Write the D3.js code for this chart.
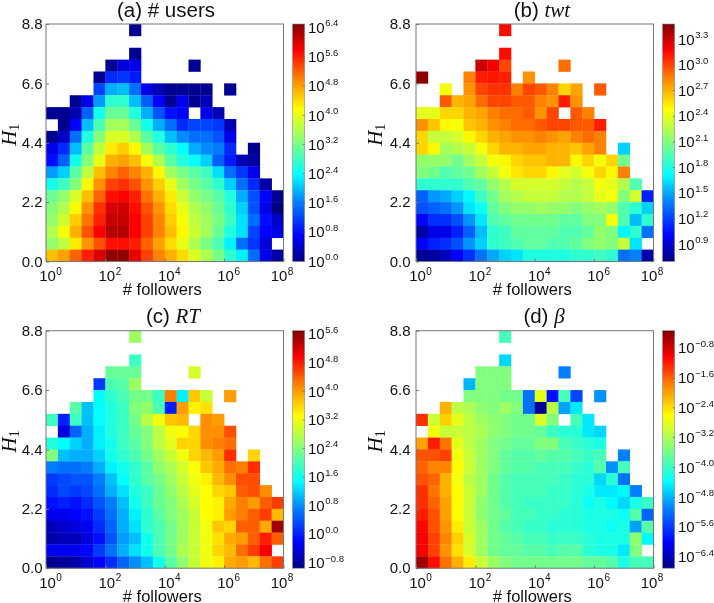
<!DOCTYPE html>
<html><head><meta charset="utf-8">
<script src="https://cdnjs.cloudflare.com/ajax/libs/d3/7.8.5/d3.min.js"></script>
<style>
html,body{margin:0;padding:0;background:#fff}
svg{display:block;filter:blur(.35px)}
text{font-family:"Liberation Sans",Arial,sans-serif;fill:#111}
</style></head><body>
<svg id="chart" width="714" height="603"></svg>
<script>
const _ = null;
// log10 of each cell; rows run from the top of the plot (H1 = 8.8) to the bottom, columns from 10^0 to 10^8
const usersLog = [
[_,_,_,_,_,_,_,.1],
[],
[_,_,_,_,_,_,_,.1],
[_,_,_,_,_,.1,.5,.6,_,_,_,_,.1],
[_,_,_,_,.1,1.0,1.1,.9],
[_,_,_,_,1.2,1.9,2.0,1.5,.6,.3,.1,.1,.1,.1,_,.1],
[_,_,.1,.6,1.8,2.7,2.7,2.0,1.4,.7,.1,.6,.1,.3],
[.1,.1,.3,1.4,2.5,3.1,3.1,2.6,1.9,1.3,.8,.7,_,.6,.3],
[_,.1,.7,2.0,2.9,3.5,3.5,3.1,2.5,1.9,1.5,1.0,1.2,1.2,1.1,.3],
[.1,.4,1.5,2.6,3.3,3.9,3.9,3.6,3.0,2.6,2.0,1.7,1.5,1.5,1.3,.6],
[.6,1.0,2.0,3.0,3.7,4.3,4.5,4.2,3.5,3.0,2.7,2.4,1.9,1.7,1.6,1.0,_,.1],
[.8,1.4,2.5,3.3,4.0,4.7,4.8,4.6,4.1,3.6,3.0,2.6,2.4,2.1,1.4,.9,.3,.2],
[1.8,2.1,3.0,3.7,4.6,5.0,5.2,5.0,4.7,4.2,3.5,3.2,3.0,2.8,2.2,1.5,1.1,.6],
[2.5,2.8,3.3,4.2,4.9,5.4,5.5,5.3,4.9,4.5,4.0,3.5,3.2,3.0,2.7,2.1,1.5,1.0,.2],
[3.1,3.4,3.9,4.6,5.2,5.7,5.8,5.6,5.1,4.7,4.3,3.8,3.4,3.2,3.0,2.6,1.9,1.3,.7,.1],
[3.3,3.6,4.2,4.9,5.5,6.0,6.05,5.7,5.3,4.9,4.4,4.0,3.6,3.4,3.1,2.7,2.1,1.3,.6,.0],
[3.4,3.8,4.5,5.1,5.6,6.1,6.1,5.8,5.4,5.0,4.5,4.1,3.7,3.5,3.2,2.8,2.2,1.5,.8,.4],
[3.6,4.1,4.7,5.3,5.8,6.2,6.2,5.8,5.4,5.0,4.6,4.2,3.8,3.5,3.1,2.6,2.2,1.2,.7,.6],
[3.4,3.7,4.3,4.9,5.3,5.7,5.7,5.6,5.2,4.8,4.4,4.0,3.6,3.2,2.9,2.3,1.5,1.1,.5,_],
[4.6,4.8,5.2,5.6,6.0,6.4,6.4,5.9,5.4,5.0,4.7,4.4,3.9,3.6,3.2,2.7,2.3,1.5,.6,.2]
];
const twtLog = [
[_,_,_,_,_,_,_,3.15],
[],
[_,_,_,_,_,_,_,3.15],
[_,_,_,_,_,3.3,3.2,3.0,_,_,_,_,2.9],
[3.45,_,_,_,2.85,3.1,3.12,3.1,_,2.8],
[_,_,2.45,_,2.8,3.0,3.05,3.05,2.85,3.0,2.95,2.85,2.6,2.75,_,2.95],
[_,_,2.95,2.7,2.75,2.9,3.0,3.0,2.95,2.95,2.85,2.8,3.1,2.8],
[2.4,2.4,2.6,2.6,2.7,2.75,2.85,2.9,2.9,2.95,2.8,3.0,_,2.95,2.85],
[2.8,2.65,2.5,2.45,2.65,2.7,2.8,2.85,2.9,2.9,2.95,3.0,3.0,2.95,2.95,3.1],
[2.6,2.3,2.3,2.35,2.5,2.6,2.7,2.75,2.8,2.8,2.85,2.8,2.75,2.85,2.9,2.85],
[2.6,2.5,2.2,2.25,2.3,2.45,2.6,2.7,2.7,2.75,2.75,2.7,2.7,2.65,2.75,2.85,_,1.6],
[2.15,2.15,2.15,2.05,2.2,2.3,2.45,2.5,2.6,2.65,2.65,2.7,2.7,2.5,2.6,2.45,2.6,2.05],
[2.1,2.05,1.95,2.0,2.05,2.2,2.3,2.45,2.55,2.6,2.6,2.5,2.4,2.35,2.45,2.6,2.5,2.85],
[1.85,1.85,1.85,1.85,1.95,2.0,2.15,2.25,2.35,2.35,2.35,2.35,2.3,2.25,2.3,2.45,2.4,2.25,1.95],
[1.3,1.45,1.5,1.6,1.7,1.9,2.05,2.2,2.25,2.3,2.3,2.3,2.25,2.25,2.3,2.4,2.45,2.1,2.35,1.1],
[1.25,1.3,1.35,1.45,1.65,1.75,2.0,2.1,2.15,2.15,2.2,2.15,2.15,2.1,2.15,2.2,2.15,1.95,1.85,1.6],
[1.0,1.15,1.15,1.25,1.45,1.65,1.95,2.0,2.05,2.05,2.05,2.05,2.0,2.0,2.1,2.1,2.45,1.95,1.55,1.85],
[.8,.95,.95,1.1,1.3,1.55,1.85,1.9,2.0,2.0,2.0,2.0,1.95,1.95,2.0,2.15,2.1,1.7,1.85,1.35],
[1.0,1.1,1.15,1.25,1.45,1.6,1.85,1.9,1.95,2.0,2.0,1.95,1.95,2.0,2.1,2.15,2.1,2.3,1.65,_],
[.75,.78,.85,1.0,1.15,1.35,1.5,1.6,1.65,1.8,1.8,1.8,1.8,1.85,1.85,1.9,1.85,1.35,1.4,.8]
];
const rtLog = [
[_,_,_,_,_,_,_,2.6],
[],
[_,_,_,_,_,_,_,1.9],
[_,_,_,_,_,2.2,2.2,2.2,_,_,_,_,3.0],
[_,_,_,_,.2,2.0,2.1,2.6],
[_,_,_,_,1.5,1.8,2.0,2.3,2.3,1.9,4.2,1.4,3.7,2.9,_,4.0],
[_,_,2.1,1.1,1.5,1.7,1.9,2.4,2.5,2.0,.0,4.0,3.4,3.5],
[1.9,.0,1.9,1.1,1.5,1.7,1.9,2.3,2.8,3.2,3.7,3.8,_,4.1,4.0],
[_,-.4,.5,1.0,1.4,1.7,1.9,2.2,2.4,2.8,3.2,3.3,3.6,4.1,4.1,4.5],
[1.7,1.5,1.2,1.0,1.4,1.6,1.9,2.1,2.4,2.8,3.1,3.6,3.6,4.1,4.2,4.3],
[2.4,1.1,1.0,1.0,1.2,1.6,1.8,2.0,2.3,2.6,2.9,3.2,3.6,3.8,4.0,4.7,_,3.6],
[.7,.6,.6,.7,1.0,1.4,1.6,1.8,2.1,2.5,2.7,3.0,3.3,3.7,3.9,4.3,4.2,4.7],
[.2,.3,.4,.4,.7,1.1,1.5,1.8,2.1,2.3,2.6,2.9,3.2,3.4,3.8,4.1,4.5,4.5],
[.1,.3,.2,.3,.6,1.0,1.3,1.7,1.9,2.2,2.5,2.8,3.1,3.3,3.6,3.7,4.4,4.5,4.1],
[-.1,.0,-.1,.1,.4,.7,1.1,1.6,1.9,2.2,2.4,2.7,3.0,3.3,3.4,3.9,4.2,4.0,4.4,4.6],
[-.3,-.3,-.2,-.1,.2,.6,1.0,1.4,1.8,2.1,2.4,2.6,2.9,3.3,3.4,4.0,4.2,4.4,4.6,3.8],
[-.6,-.5,-.4,-.3,.1,.5,1.0,1.3,1.8,2.0,2.3,2.6,2.9,3.2,3.7,3.6,4.4,4.4,3.9,5.5],
[-.7,-.6,-.6,-.4,-.1,.4,.9,1.1,1.6,2.0,2.3,2.6,2.9,3.2,3.5,3.9,4.0,4.4,4.8,4.4],
[-.3,-.3,-.3,-.2,.2,.6,1.0,1.3,1.6,2.0,2.3,2.7,2.9,3.2,3.6,3.8,4.3,4.6,5.0,_],
[-.85,-.8,-.7,-.5,-.2,.1,.5,.8,1.1,1.6,2.1,2.5,2.9,3.2,3.4,3.9,4.0,3.8,4.3,4.6]
];
const betaLog = [
[_,_,_,_,_,_,_,-3.9],
[],
[_,_,_,_,_,_,_,-4.6],
[_,_,_,_,_,-3.5,-3.5,-3.5,_,_,_,_,-5.1],
[_,_,_,_,-4.8,-3.5,-3.5,-3.5],
[_,_,_,_,-3.5,-3.5,-3.5,-3.6,-3.6,-5.2,-2.8,-5.9,-3.9,-5.5,_,-5.0],
[_,_,-2.1,-3.1,-3.2,-3.4,-3.5,-3.3,-3.5,-5.2,-6.6,-3.1,-4.9,-4.5],
[-1.3,-3.0,-2.3,-2.8,-3.1,-3.3,-3.4,-3.5,-3.6,-3.6,-2.9,-3.5,_,-3.9,-4.5],
[_,-2.7,-3.0,-3.0,-3.1,-3.2,-3.4,-3.5,-3.6,-3.6,-3.7,-4.0,-4.1,-4.1,-4.5,-4.6],
[-2.0,-1.2,-1.7,-2.8,-3.1,-3.3,-3.5,-3.6,-3.7,-3.7,-3.5,-3.5,-3.9,-4.0,-4.1,-4.2],
[-1.5,-1.5,-1.4,-2.7,-3.0,-3.3,-3.5,-3.7,-3.8,-3.8,-3.7,-3.8,-3.8,-3.9,-4.0,-3.9,_,-5.1],
[-1.6,-1.8,-1.8,-2.6,-3.0,-3.3,-3.5,-3.7,-3.8,-3.8,-3.9,-3.9,-3.9,-4.0,-4.1,-3.8,-5.0,-3.9],
[-1.5,-1.6,-2.1,-2.7,-3.1,-3.3,-3.6,-3.8,-3.9,-3.9,-3.9,-3.9,-4.0,-4.1,-4.1,-4.6,-4.1,-5.2],
[-1.3,-1.7,-2.1,-2.6,-3.0,-3.3,-3.6,-3.8,-3.9,-3.9,-3.9,-4.0,-4.0,-4.1,-4.2,-4.5,-4.5,-4.4,-5.1],
[-1.3,-1.6,-2.0,-2.6,-3.0,-3.4,-3.6,-3.8,-3.9,-4.0,-4.0,-4.0,-4.0,-4.1,-4.3,-4.2,-4.4,-4.6,-4.2,-4.0],
[-1.2,-1.5,-2.0,-2.6,-3.0,-3.4,-3.6,-3.7,-3.9,-3.9,-4.0,-4.0,-4.1,-4.1,-4.2,-4.2,-4.2,-4.3,-3.8,-5.3],
[-1.05,-1.5,-1.9,-2.5,-3.0,-3.3,-3.6,-3.8,-3.9,-4.0,-4.0,-4.1,-4.1,-4.1,-4.2,-4.2,-4.3,-4.2,-4.9,-3.8],
[-1.0,-1.4,-1.8,-2.3,-2.9,-3.3,-3.6,-3.7,-3.8,-3.9,-3.9,-4.0,-4.0,-4.0,-4.1,-4.2,-4.2,-4.2,-3.4,-4.4],
[-1.0,-1.4,-1.9,-2.4,-2.9,-3.3,-3.6,-3.7,-3.7,-3.8,-3.8,-3.9,-3.8,-3.8,-4.1,-4.2,-4.2,-4.5,-3.5,_],
[-.5,-1.1,-1.7,-2.1,-2.5,-3.0,-3.3,-3.5,-3.6,-3.6,-3.6,-3.6,-3.6,-3.6,-3.7,-3.7,-3.8,-4.2,-3.9,-3.9]
];
const xTicks = [1, 1e2, 1e4, 1e6, 1e8];
const yTicks = [0, 2.2, 4.4, 6.6, 8.8];
const xExponents = ["0", "2", "4", "6", "8"];
const usersTicks = ["0.0","0.8","1.6","2.4","3.2","4.0","4.8","5.6","6.4"];
const twtTicks = ["0.9","1.2","1.5","1.8","2.1","2.4","2.7","3.0","3.3"];
const rtTicks = ["\u22120.8","0.0","0.8","1.6","2.4","3.2","4.0","4.8","5.6"];
const betaTicks = ["\u22126.4","\u22125.6","\u22124.8","\u22124.0","\u22123.2","\u22122.4","\u22121.6","\u22120.8"];
const jetStops = ["#00007f","#0000ff","#007fff","#00ffff","#7fff7f","#ffff00","#ff7f00","#ff0000","#7f0000"];
const jetOffsets = [0,.11,.25,.365,.5,.64,.775,.89,1];

const nCols = 20, nRows = 20;
const panels = [
 {letter:"(a) ", label:"# users", italic:false, data:usersLog, ticks:usersTicks, domain:[0,6.5], left:46, top:24, titleX:166, titleY:16.5, yLabOff:-30, yTickOff:-3.5},
 {letter:"(b) ", label:"twt", italic:true, data:twtLog, ticks:twtTicks, domain:[.7,3.48], left:416, top:24, titleX:542, titleY:16.5, yLabOff:-34.5, yTickOff:-5.5},
 {letter:"(c) ", label:"RT", italic:true, data:rtLog, ticks:rtTicks, domain:[-.95,5.7], left:46, top:330.7, titleX:173, titleY:323, yLabOff:-30, yTickOff:-3.5},
 {letter:"(d) ", label:"\u03b2", italic:true, data:betaLog, ticks:betaTicks, domain:[-6.7,-.33], left:416, top:330.7, titleX:544, titleY:323, yLabOff:-34.5, yTickOff:-5.5}
];
const W = 237.5, H = 237.5, cbGap = 9, cbW = 12.2;
const svg = d3.select("#chart");
const jet = d3.scaleLinear().domain(jetOffsets).range(jetStops).interpolate(d3.interpolateRgb).clamp(true);
const defs = svg.append("defs");
defs.append("linearGradient").attr("id","jet").attr("x1",0).attr("y1",1).attr("x2",0).attr("y2",0)
  .selectAll("stop").data(jetOffsets).join("stop")
  .attr("offset",d=>d).attr("stop-color",(d,i)=>jetStops[i]);

function power(sel, exp, fs, ss){
  sel.text(null);
  sel.append("tspan").attr("font-size",fs).text("10");
  sel.append("tspan").attr("font-size",ss).attr("dy",-6.5).attr("dx",.5).text(exp);
}

panels.forEach(p=>{
  const g = svg.append("g").attr("transform",`translate(${p.left},${p.top})`);
  const x = d3.scaleLog().domain([1,1e8]).range([0,W]);
  const y = d3.scaleLinear().domain([0,8.8]).range([H,0]);
  const color = d3.scaleLinear().domain(p.domain).range([0,1]);
  const colEdge = i => Math.pow(10, i*8/nCols);
  const rowEdge = r => (nRows-r)*8.8/nRows;
  const cells = [];
  p.data.forEach((row,r)=>row.forEach((v,c)=>{ if(v!==null) cells.push({r,c,v}); }));
  g.selectAll("rect.cell").data(cells).join("rect").attr("class","cell")
    .attr("x",d=>x(colEdge(d.c))).attr("y",d=>y(rowEdge(d.r)))
    .attr("width",d=>x(colEdge(d.c+1))-x(colEdge(d.c))+.3)
    .attr("height",d=>y(rowEdge(d.r+1))-y(rowEdge(d.r))+.3)
    .attr("fill",d=>jet(color(d.v)));

  // frame + axes
  g.append("rect").attr("width",W).attr("height",H).attr("fill","none").attr("stroke","#777").attr("stroke-width",1);
  const ax = g.append("g").attr("transform",`translate(0,${H})`)
    .call(d3.axisBottom(x).tickValues(xTicks).tickSizeInner(-3).tickSizeOuter(0).tickPadding(0).tickFormat(""));
  ax.select(".domain").remove();
  ax.selectAll("line").attr("stroke","#777");
  ax.selectAll("text").remove();
  xTicks.forEach((t,i)=>{
    ax.append("text").attr("x",x(t)+(i===4?-1.5:4.5)).attr("y",19.5).attr("text-anchor","middle").call(power,xExponents[i],15,10);
  });
  const ay = g.append("g").call(d3.axisLeft(y).tickValues(yTicks).tickSizeInner(-3).tickSizeOuter(0).tickPadding(0).tickFormat(""));
  ay.select(".domain").remove();
  ay.selectAll("line").attr("stroke","#777");
  ay.selectAll("text").remove();
  yTicks.forEach(t=>{
    ay.append("text").attr("x",p.yTickOff).attr("y",y(t)+5.2).attr("text-anchor","end").attr("font-size",15).text(t.toFixed(1));
  });
  g.append("text").attr("x",W/2-2.5).attr("y",H+33.5).attr("text-anchor","middle").attr("font-size",16.5).text("# followers");
  g.append("text").attr("transform",`translate(${p.yLabOff},${H/2-8}) rotate(-90)`).attr("text-anchor","middle")
    .call(s=>{
      s.append("tspan").style("font-family","'Liberation Serif',serif").attr("font-style","italic").attr("font-size",21).text("H");
      s.append("tspan").style("font-family","'Liberation Serif',serif").attr("font-size",14).attr("dy",3).text("1");
    });

  // title
  const title = svg.append("text").attr("x",p.titleX).attr("y",p.titleY).attr("text-anchor","middle").attr("font-size",20.5);
  title.append("tspan").text(p.letter);
  const lab = title.append("tspan").text(p.label);
  if(p.italic) lab.style("font-family","'Liberation Serif',serif").attr("font-style","italic").attr("font-size",21);

  // colorbar
  const cb = g.append("g").attr("transform",`translate(${W+cbGap},0)`);
  cb.append("rect").attr("width",cbW).attr("height",H).attr("fill","url(#jet)").attr("stroke","#8a8f9a").attr("stroke-width",.6);
  const cbY = d3.scaleLinear().domain(p.domain).range([H,0]);
  const tickVals = p.ticks.map(s=>+s.replace("\u2212","-"));
  cb.selectAll("line").data(tickVals).join("line")
    .attr("x1",cbW-2).attr("x2",cbW).attr("y1",d=>cbY(d)).attr("y2",d=>cbY(d)).attr("stroke","#555").attr("stroke-width",.6);
  p.ticks.forEach((s,i)=>{
    cb.append("text").attr("x",cbW+3.3).attr("y",cbY(tickVals[i])+5.2).call(power,s,15,9.5);
  });
});
</script>
</body></html>
